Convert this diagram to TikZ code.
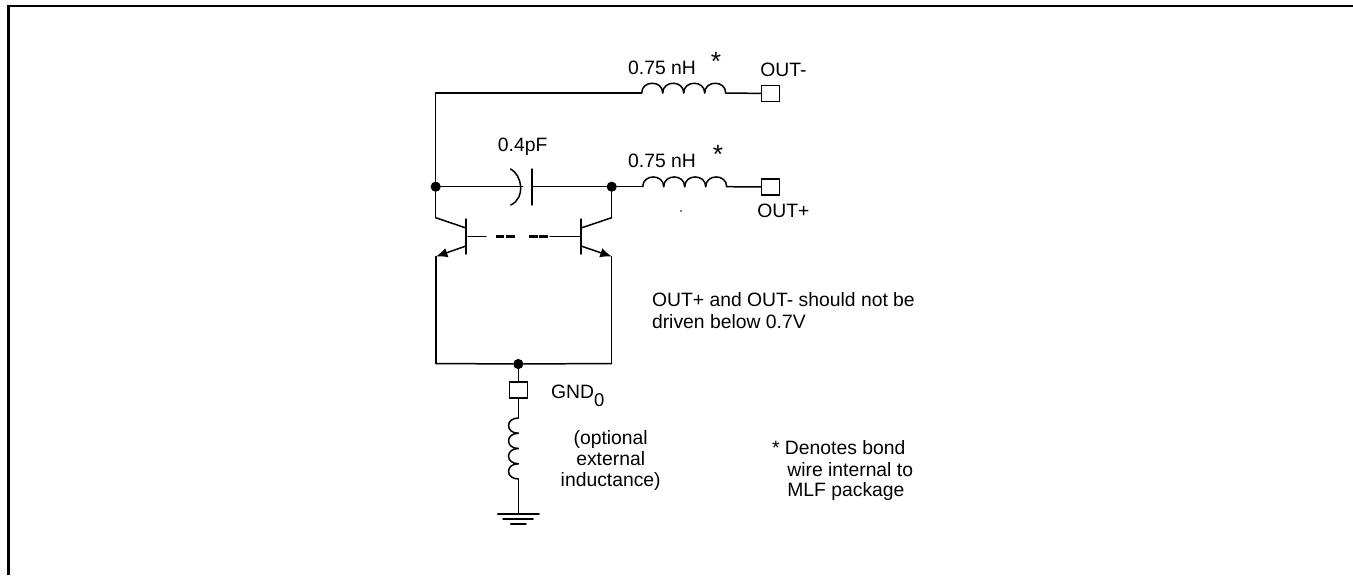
\documentclass[tikz,border=0pt]{standalone}
\usepackage{fontspec}
\setmainfont{Liberation Sans}
\usetikzlibrary{graphs,arrows.meta}
\tikzset{
	wire/.style={line width=0.85pt, line cap=round},
	frameline/.style={line width=1.3pt},
	dashbit/.style={line width=1.4pt, dash pattern=on 5pt off 0.9pt},
	pad/.style={rectangle, draw, line width=0.7pt, fill=white, inner sep=0pt, minimum width=10.2pt, minimum height=9pt},
	junction/.style={circle, fill=black, inner sep=0pt, minimum size=5.8pt},
	lbl/.style={font=\fontsize{11}{13}\selectfont, inner sep=0pt},
	starlbl/.style={font=\fontsize{15}{15}\selectfont, inner sep=0pt},
	coil/.pic={
			\foreach \n in {0,1,2,3}{
					\draw[wire] ({\n*21},0) .. controls ({\n*21},-13) and ({(\n+1)*21},-13) .. ({(\n+1)*21},0);
				}
		}
}

\begin{document}
\begin{tikzpicture}[x=0.2mm, y=-0.2mm]
	\useasboundingbox (0,0) rectangle (1353,575);

	% frame
	\coordinate (frameA) at (8.5,575);
	\coordinate (frameB) at (8.5,6);
	\coordinate (frameC) at (1353,6);
	\draw[frameline] (frameA) -- (frameB) -- (frameC);

	% pads and junctions
	\node[pad] (outminus) at (770.5,93.5) {};
	\node[pad] (outplus) at (770.5,187) {};
	\node[pad] (gndpad) at (518.3,390) {};
	\node[junction] (dotL) at (435.7,186.7) {};
	\node[junction] (dotR) at (611.7,186.7) {};
	\node[junction] (dotG) at (518.3,364) {};
	\node[circle, fill=black, inner sep=0pt, minimum size=1pt] (speck) at (681,211) {};

	% free ends of the wires
	\coordinate (railT) at (435.7,93);
	\coordinate (coilAin) at (641.7,93);
	\coordinate (coilAout) at (725.7,93);
	\coordinate (coilBin) at (642.7,186.7);
	\coordinate (coilBout) at (726.7,186.7);
	\coordinate (coilCin) at (518.3,418);
	\coordinate (coilCout) at (518.3,479);
	\coordinate (plateCurve) at (522.7,186.7);
	\coordinate (plateFlat) at (532,186.7);
	\coordinate (plateTop) at (532,169);
	\coordinate (plateBot) at (532,205);

	% transistors
	\coordinate (collL) at (435.7,217.7);
	\coordinate (collR) at (611.7,217.7);
	\coordinate (barLt) at (466,219);
	\coordinate (barLb) at (466,254);
	\coordinate (barRt) at (581,219);
	\coordinate (barRb) at (581,254);
	\coordinate (colltipL) at (466,228);
	\coordinate (colltipR) at (581,228);
	\coordinate (emitL) at (466,246);
	\coordinate (emitR) at (581,246);
	\coordinate (emittipL) at (436,256.5);
	\coordinate (emittipR) at (611.7,256.5);
	\coordinate (baseLa) at (468,236.7);
	\coordinate (baseLb) at (486,236.7);
	\coordinate (baseRa) at (550,236.7);
	\coordinate (baseRb) at (581,236.7);
	\coordinate (dashAa) at (495.7,236.7);
	\coordinate (dashAb) at (515.5,236.7);
	\coordinate (dashBa) at (529,236.7);
	\coordinate (dashBb) at (549,236.7);
	\coordinate (footL) at (436,363.5);
	\coordinate (footR) at (611.7,363.5);

	% ground
	\coordinate (gnd) at (518.3,514);
	\coordinate (gndAa) at (497.7,514);
	\coordinate (gndAb) at (539,514);
	\coordinate (gndBa) at (503,519);
	\coordinate (gndBb) at (533,519);
	\coordinate (gndCa) at (510.7,524);
	\coordinate (gndCb) at (526,524);

	\graph[use existing nodes, edges={wire}]{
		coilAin -- railT -- dotL -- collL -- colltipL;
		coilAout -- outminus;
		dotL -- plateCurve;
		plateFlat -- dotR -- coilBin;
		coilBout -- outplus;
		plateTop -- plateBot;
		dotR -- collR -- colltipR;
		barLt -- barLb;
		barRt -- barRb;
		baseLa -- baseLb;
		baseRa -- baseRb;
		emittipL -- footL -- dotG -- footR -- emittipR;
		dotG -- gndpad -- coilCin;
		coilCout -- gnd;
		gndAa -- gndAb;
		gndBa -- gndBb;
		gndCa -- gndCb;
	};

	\draw[wire] (510.7,169) .. controls (522,175) and (526,198) .. (510.7,205);
	\draw[wire, -{Latex[length=6.5pt, width=5.5pt]}] (emitL) -- (emittipL);
	\draw[wire, -{Latex[length=6.5pt, width=5.5pt]}] (emitR) -- (emittipR);
	\draw[dashbit] (dashAa) -- (dashAb);
	\draw[dashbit] (dashBa) -- (dashBb);

	\pic at (coilAin) {coil};
	\pic at (coilBin) {coil};
	\pic[rotate=-90, yscale=-1, xscale=0.726] at (coilCin) {coil};

	% labels
	\node[lbl] (valA) at (662,68) {0.75 nH};
	\node[lbl] (valB) at (662,161) {0.75 nH};
	\node[starlbl, anchor=base] (starA) at (716,70) {*};
	\node[starlbl, anchor=base] (starB) at (718,163) {*};
	\node[lbl] (capval) at (522.7,146.7) {0.4pF};
	\node[lbl, anchor=west] (nameminus) at (760,70) {OUT-};
	\node[lbl, anchor=west] (nameplus) at (757,211) {OUT+};
	\node[lbl, anchor=base west] (gndname) at (550.7,398) {GND\raisebox{-0.85ex}{\fontsize{10.5}{12}\selectfont 0}};
	\node[lbl, align=center] (optnote) at (610.7,460.5) {(optional\\[-1.2pt]external\\[-1.2pt]inductance)};
	\node[lbl, anchor=base west] (driveA) at (651.7,306) {OUT+ and OUT- should not be};
	\node[lbl, anchor=base west] (driveB) at (651.7,328) {driven below 0.7V};
	\node[lbl, anchor=base west] (bondA) at (771.7,454) {* Denotes bond};
	\node[lbl, anchor=base west] (bondB) at (787,476) {wire internal to};
	\node[lbl, anchor=base west] (bondC) at (787,496) {MLF package};
\end{tikzpicture}
\end{document}
